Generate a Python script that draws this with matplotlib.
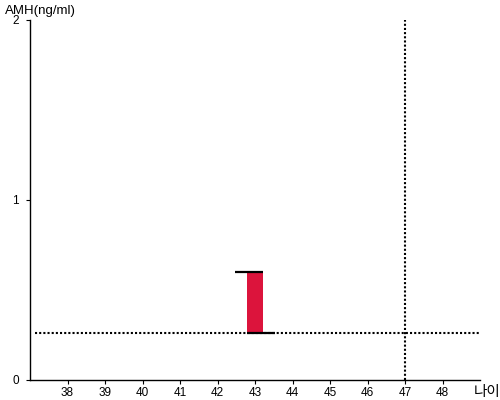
import matplotlib
matplotlib.use('Agg')
import matplotlib.pyplot as plt

# data
age = 43
amh_low = 0.26
amh_high = 0.6
cutoff_age = 47
ref_amh = 0.26
x_ticks = [38, 39, 40, 41, 42, 43, 44, 45, 46, 47, 48]
y_ticks = [0, 1, 2]

plt.rcParams['font.family'] = ['Liberation Sans', 'Noto Sans CJK KR', 'DejaVu Sans']

fig = plt.figure(figsize=(5, 4), dpi=100)
ax = fig.add_axes([0.06, 0.05, 0.90, 0.90])

bw = 0.43
ax.bar(age, amh_high - amh_low, bottom=amh_low, width=bw, color='#dc143c', zorder=2)
# top line sticks out left, bottom line sticks out right
ax.hlines(amh_high, age - bw / 2 - 0.32, age + bw / 2, colors='black', lw=1.6, zorder=3)
ax.hlines(amh_low, age - bw / 2, age + bw / 2 + 0.32, colors='black', lw=1.6, zorder=3)

ax.axhline(ref_amh, xmin=0.01, color='black', lw=1.5, ls=(0, (1, 1)), zorder=1)
ax.axvline(cutoff_age, color='black', lw=1.5, ls=(0, (1, 1)), zorder=1)

ax.set_xlim(37, 49)
ax.set_ylim(0, 2)
ax.set_xticks(x_ticks)
ax.set_yticks(y_ticks)
ax.tick_params(labelsize=8.5, length=3, width=0.8, colors='black', pad=2)
ax.tick_params(axis='y', pad=5)
for lab in ax.get_yticklabels():
    lab.set_verticalalignment('center_baseline')
for s in ['top', 'right']:
    ax.spines[s].set_visible(False)
for s in ['left', 'bottom']:
    ax.spines[s].set_linewidth(1)

fig.text(0.01, 0.988, 'AMH(ng/ml)', fontsize=9.5, ha='left', va='top')
fig.text(0.948, 0.02, '나이', fontsize=10.5, ha='left', va='center',
         family=['Noto Sans CJK KR', 'DejaVu Sans'])

fig.savefig('out.png', dpi=100)
